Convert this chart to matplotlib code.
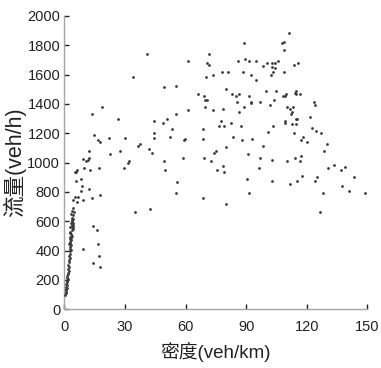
import matplotlib
matplotlib.use("Agg")
import matplotlib.pyplot as plt

# density (veh/km) and flow (veh/h)
k_free = [0.5, 0.6, 0.9, 0.7, 0.8, 1.1, 0.9, 1.2, 1.0, 1.3, 1.1, 1.6, 1.3, 1.5, 1.8,
          1.6, 2.1, 1.9, 2.3, 2.0, 2.5, 2.2, 2.6, 2.4, 2.8, 2.6, 3.1, 2.7, 2.9, 3.3,
          2.5, 3.0, 2.7, 3.4, 3.0, 3.2, 2.7, 3.6, 3.3, 3.0, 2.8, 4.0, 4.1, 3.6, 2.8,
          4.2, 3.8, 4.5, 3.3, 4.2, 4.0, 3.6, 4.2, 3.8, 4.4, 3.5, 4.6, 3.8, 4.3]
q_free = [100, 110, 120, 130, 140, 148, 155, 165, 175, 185, 195, 205, 215, 228, 240,
          250, 262, 275, 290, 305, 320, 335, 350, 365, 380, 395, 405, 410, 425, 440,
          445, 455, 458, 470, 481, 485, 493, 500, 515, 518, 529, 540, 545, 560, 563,
          563, 575, 576, 588, 588, 600, 610, 615, 624, 645, 647, 661, 672, 690]

k_low = [4.5, 6.3, 5.4, 6.9, 9.3, 13.7, 17.8, 5.9, 8.3, 8.6, 8.4, 12.2,
         5.8, 6.1, 5.4, 9.6, 12.9, 17.0, 29.4, 9.3, 10.6, 11.6, 12.1, 12.4,
         22.5, 27.4, 31.4, 31.9, 49.5, 49.7, 14.9, 16.5, 17.5, 22.1, 29.9, 44.2,
         44.4, 36.5, 37.6, 41.8, 43.4, 35.1, 42.4, 14.0, 16.0, 16.7, 9.3, 17.0,
         14.2, 17.7, 40.8, 34.0, 49.5, 18.7, 13.9, 26.4, 44.2, 49.0]
q_low = [742, 733, 767, 767, 742, 756, 781, 874, 886, 840, 804, 817,
         937, 947, 933, 960, 947, 960, 960, 1022, 1008, 1019, 1031, 1078,
         1056, 1078, 997, 1008, 1008, 947, 1185, 1151, 1138, 1165, 1165, 1201,
         1165, 1114, 1126, 1092, 1067, 661, 683, 565, 540, 445, 409, 361,
         313, 288, 1739, 1582, 1512, 1378, 1330, 1294, 1283, 1271]

k_mid = [89.0, 71.8, 61.4, 86.0, 89.5, 91.6, 94.9, 100.2, 98.4, 70.8, 71.5, 78.2,
         81.2, 88.6, 73.5, 70.0, 92.4, 94.8, 55.3, 80.0, 66.2, 69.3, 83.0, 84.8,
         86.3, 91.4, 99.9, 69.5, 70.5, 85.5, 92.4, 92.6, 96.7, 101.7, 89.0, 69.5,
         78.6, 73.5, 61.4, 86.6, 55.3, 51.0, 53.3, 68.5, 77.4, 82.4, 76.6, 79.2,
         87.6, 52.4, 59.1, 59.8, 68.7, 83.5, 88.1, 92.8, 100.7, 79.9, 98.5, 74.1,
         74.9, 91.1, 58.8, 69.0, 72.5, 96.9, 78.6, 75.4, 78.9, 96.2, 55.9, 90.3,
         55.4, 91.3, 68.7, 80.0]
q_mid = [1812, 1739, 1694, 1691, 1705, 1694, 1694, 1680, 1655, 1680, 1664, 1619,
         1619, 1619, 1594, 1582, 1594, 1560, 1523, 1500, 1467, 1453, 1464, 1453,
         1464, 1453, 1487, 1426, 1426, 1414, 1414, 1403, 1414, 1392, 1380, 1378,
         1367, 1356, 1356, 1342, 1330, 1296, 1228, 1228, 1283, 1271, 1249, 1249,
         1249, 1174, 1151, 1162, 1162, 1174, 1151, 1162, 1210, 1104, 1114, 1067,
         1078, 1056, 1033, 1033, 1008, 1033, 974, 947, 933, 960, 865, 887,
         792, 792, 756, 717]

k_high = [111.1, 107.9, 108.9, 108.6, 102.8, 104.5, 106.0, 102.7, 104.3, 103.5,
          102.2, 113.7, 115.7, 108.9, 104.6, 108.4, 109.1, 109.9, 114.6, 114.2,
          114.9, 116.7, 103.7, 123.5, 124.0, 110.3, 111.7, 113.1, 112.6, 112.1,
          114.7, 115.3, 109.3, 109.4, 112.7, 114.7, 121.6, 122.8, 103.3,
          113.9, 118.0, 117.3, 120.1, 124.8, 127.2, 130.2, 128.7, 102.8, 110.4,
          114.2, 117.2, 116.8, 133.5, 139.1, 137.0, 130.7, 117.8, 125.1, 124.3,
          102.7, 111.9, 115.0, 143.3, 137.6, 141.1, 148.9, 128.1, 126.4]
q_high = [1882, 1812, 1823, 1764, 1680, 1680, 1694, 1653, 1642, 1617,
          1594, 1666, 1680, 1619, 1487, 1453, 1453, 1464, 1487, 1476,
          1464, 1464, 1426, 1414, 1390, 1378, 1367, 1378, 1342, 1330,
          1294, 1294, 1283, 1271, 1260, 1260, 1308, 1235, 1249,
          1201, 1174, 1151, 1138, 1212, 1201, 1126, 1078, 1019, 1008,
          1033, 1044, 1008, 985, 971, 947, 960, 910, 899, 874,
          874, 851, 874, 899, 838, 804, 792, 792, 661]

density = k_free + k_low + k_mid + k_high
flow = q_free + q_low + q_mid + q_high

x_ticks = [0, 30, 60, 90, 120, 150]
y_ticks = list(range(0, 2001, 200))

FONTS = ["Liberation Sans", "Noto Sans CJK SC"]
plt.rcParams["font.family"] = FONTS

fig = plt.figure(figsize=(3.81, 3.68), dpi=100)
ax = fig.add_axes([0.169, 0.1595, 0.795, 0.7975])

ax.plot(density, flow, "o", ms=2.0, mew=0, color="#3a3a3a", zorder=3)

ax.set_xlim(0, 150)
ax.set_ylim(0, 2000)
ax.set_xticks(x_ticks)
ax.set_yticks(y_ticks)
for side in ("top", "right"):
    ax.spines[side].set_visible(False)
for side in ("left", "bottom"):
    ax.spines[side].set_color("#a6a6a6")
    ax.spines[side].set_linewidth(1.0)
ax.tick_params(direction="in", length=3.5, width=1.0, color="#222222",
               labelsize=10.5, labelcolor="#222222", pad=3)
ax.tick_params(axis="x", pad=7.5)

ax.set_xlabel("密度(veh/km)", fontsize=13.5, color="#222222", labelpad=6)
ax.set_ylabel("流量(veh/h)", fontsize=15.5, color="#222222")
ax.yaxis.set_label_coords(-0.127, 0.5)

fig.savefig("out.png", dpi=100)
